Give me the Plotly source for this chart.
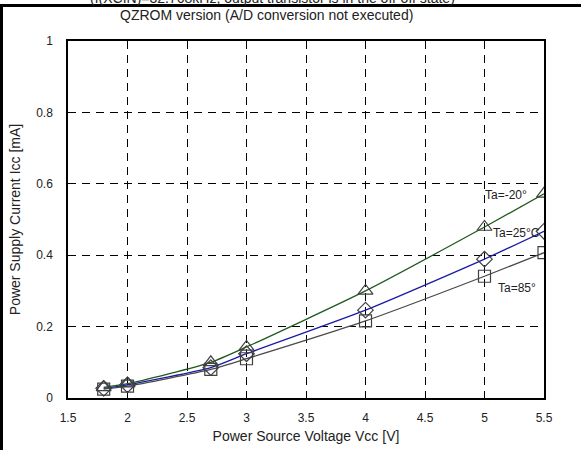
import plotly.graph_objects as go

vcc = [1.8, 2.0, 2.7, 3.0, 4.0, 5.0, 5.5]
icc_m20 = [0.030, 0.040, 0.100, 0.143, 0.300, 0.479, 0.572]
icc_25 = [0.027, 0.037, 0.085, 0.124, 0.246, 0.389, 0.467]
icc_85 = [0.025, 0.033, 0.080, 0.110, 0.216, 0.341, 0.407]
series_names = ["Ta=-20°", "Ta=25°C", "Ta=85°"]
x_ticks = [1.5, 2, 2.5, 3, 3.5, 4, 4.5, 5, 5.5]
y_ticks = [0, 0.2, 0.4, 0.6, 0.8, 1]

FONT = "Liberation Sans, Arial, sans-serif"
L, R, T, B = 68, 37, 41, 52
W, H = 581, 450
PW, PH = W - L - R, H - T - B

def px(xp):
    return (xp - L) / PW

def py(yp):
    return (H - B - yp) / PH

fig = go.Figure()
styles = [
    (icc_m20, "#1e5a1e", "triangle-up-open", 13),
    (icc_25, "#1a1aa6", "diamond-open", 12),
    (icc_85, "#4a4a4a", "square-open", 12),
]
for (vals, col, sym, sz), name in zip(styles, series_names):
    fig.add_trace(go.Scatter(
        x=vcc, y=vals, name=name, mode="lines",
        line=dict(color=col, width=1.3, shape="spline", smoothing=0.6),
        showlegend=False, hoverinfo="skip"))
for (vals, col, sym, sz), name in zip(styles, series_names):
    fig.add_trace(go.Scatter(
        x=vcc, y=vals, name=name, mode="markers",
        marker=dict(symbol=sym, size=sz, color="#404040", line=dict(color="#404040", width=1.2)),
        showlegend=False))

label_pos = [(4.99, 0.569), (5.055, 0.462), (5.10, 0.308)]
for name, (lx, ly) in zip(series_names, label_pos):
    fig.add_annotation(x=lx, y=ly, text=name, showarrow=False, xanchor="left",
                       yanchor="middle", font=dict(size=12, color="#222", family=FONT))

axis_common = dict(
    showline=True, linecolor="black", linewidth=1.5, mirror=True,
    showgrid=True, gridcolor="black", gridwidth=1, griddash="8px,6px",
    zeroline=False, ticks="outside", tickcolor="rgba(0,0,0,0)", automargin=False,
    tickfont=dict(size=12, color="#222", family=FONT),
)
fig.update_xaxes(range=[1.5, 5.5], tickvals=x_ticks, ticktext=[f"{v:g}" for v in x_ticks], ticklen=8,
                 title=dict(text="Power Source Voltage Vcc [V]", font=dict(size=14, color="#222", family=FONT), standoff=7),
                 **axis_common)
fig.update_yaxes(range=[0, 1], tickvals=y_ticks, ticktext=[f"{v:g}" for v in y_ticks], ticklen=11,
                 title=dict(text="Power Supply Current Icc [mA]", font=dict(size=14, color="#222", family=FONT), standoff=12),
                 **axis_common)

# titles
fig.add_annotation(xref="paper", yref="paper", x=px(266), y=py(15), text="QZROM version (A/D conversion not executed)",
                   showarrow=False, xanchor="center", yanchor="middle", font=dict(size=14, color="#222", family=FONT))
fig.add_annotation(xref="paper", yref="paper", x=px(272), y=py(-2), text="(f(XCIN)=32.768kHz, output transistor is in the off-off state)",
                   showarrow=False, xanchor="center", yanchor="middle", font=dict(size=14, color="#222", family=FONT))

# outer border (box continuing beyond the right and bottom edges)
fig.add_shape(type="line", xref="paper", yref="paper", layer="above", x0=px(0), x1=px(581), y0=py(5.5), y1=py(5.5),
              line=dict(color="black", width=3))
fig.add_shape(type="line", xref="paper", yref="paper", layer="above", x0=px(1.5), x1=px(1.5), y0=py(4), y1=py(450),
              line=dict(color="black", width=3))

fig.update_layout(width=W, height=H, margin=dict(l=L, r=R, t=T, b=B, autoexpand=False),
                  paper_bgcolor="white", plot_bgcolor="white",
                  font=dict(family=FONT))
fig.write_html("out.html")
